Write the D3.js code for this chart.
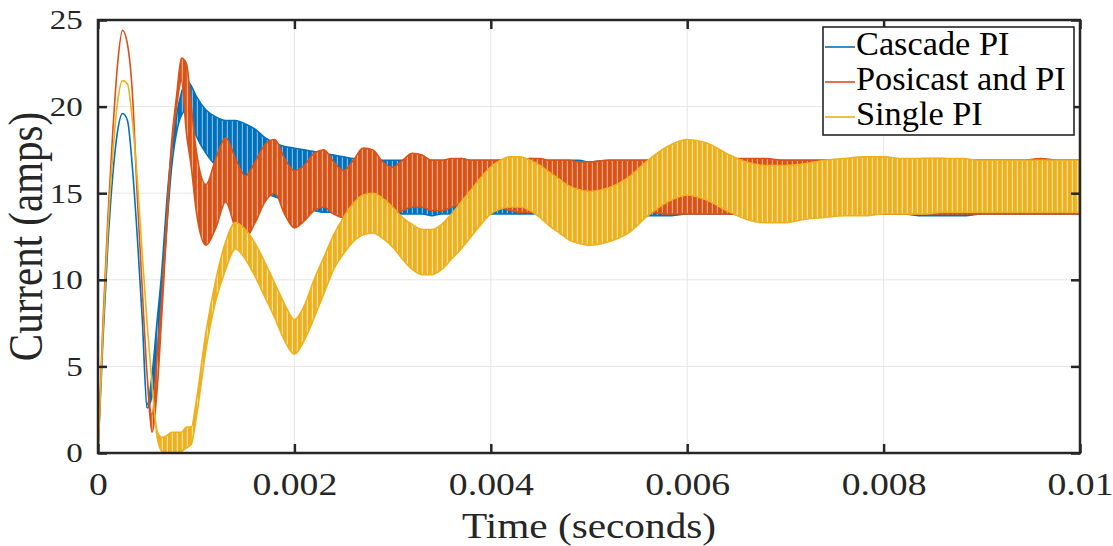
<!DOCTYPE html>
<html>
<head>
<meta charset="utf-8">
<script src="https://cdn.jsdelivr.net/npm/d3@7"></script>
<style>
  html, body { margin: 0; padding: 0; background: #fff; }
  svg { display: block; font-family: "Liberation Serif", "Times New Roman", serif; }
</style>
</head>
<body>
<svg id="chart" width="1113" height="546"></svg>
<script>
// time samples (s)
const time = [
  0, 0.00005, 0.0001, 0.00015, 0.0002, 0.00025, 0.0003, 0.00035, 0.0004, 0.00045, 0.0005,
  0.00055, 0.0006, 0.00065, 0.0007, 0.00075, 0.0008, 0.00085, 0.0009, 0.00095, 0.001,
  0.0011, 0.0012, 0.0013, 0.0014, 0.0015, 0.0016, 0.0017, 0.0018, 0.0019, 0.002,
  0.0021, 0.0022, 0.0023, 0.0024, 0.0025, 0.0026, 0.0027, 0.0028, 0.0029, 0.003,
  0.0031, 0.0032, 0.0033, 0.0034, 0.0035, 0.0036, 0.0037, 0.0038, 0.0039, 0.004,
  0.0041, 0.0042, 0.0043, 0.0044, 0.0045, 0.0046, 0.0047, 0.0048, 0.0049, 0.005,
  0.0052, 0.0054, 0.0056, 0.0058, 0.006, 0.0062, 0.0064, 0.0066, 0.0068, 0.007,
  0.0072, 0.0074, 0.0076, 0.0078, 0.008, 0.0082, 0.0084, 0.0086, 0.0088, 0.009,
  0.0092, 0.0094, 0.0096, 0.0098, 0.01
];

// upper / lower edge of the ripple band for each controller (amps)
const cascadeHi = [
  0, 6.5, 12, 16, 18.6, 19.6, 19.2, 16.5, 12.5, 7.8, 2.8,
  4.5, 7.5, 10.5, 14.5, 17.5, 19.5, 20.8, 21.5, 21.2, 20.6,
  19.8, 19.4, 19.2, 19.2, 19.0, 18.7, 18.2, 17.9, 17.7, 17.6,
  17.5, 17.4, 17.3, 17.2, 17.1, 17.0, 17.0, 17.0, 16.9, 16.9,
  16.9, 16.9, 17.0, 16.9, 16.9, 16.9, 17.0, 16.9, 16.9, 16.9,
  16.9, 16.9, 16.9, 17.0, 16.9, 16.9, 16.9, 16.9, 16.9, 16.8,
  16.9, 16.9, 16.9, 16.9, 16.8, 16.9, 16.9, 16.9, 16.9, 16.9,
  16.9, 16.9, 16.9, 16.9, 16.9, 16.9, 16.9, 16.9, 16.9, 16.9,
  16.9, 16.9, 16.9, 16.9, 16.9
];
const cascadeLo = [
  0, 6.5, 12, 16, 18.6, 19.6, 19.2, 16.5, 12.5, 7.8, 2.6,
  3.3, 5.5, 9.0, 13.0, 16.5, 18.5, 19.5, 19.8, 19.0, 18.3,
  17.3, 16.6, 16.2, 15.9, 15.6, 15.2, 15.0, 14.8, 14.6, 14.4,
  14.2, 14.0, 13.9, 13.9, 13.8, 13.8, 13.8, 13.8, 13.8, 13.8,
  13.8, 13.8, 13.8, 13.7, 13.8, 13.8, 13.8, 13.9, 13.8, 13.8,
  13.8, 13.8, 13.8, 13.8, 13.8, 13.8, 13.8, 13.8, 13.8, 13.8,
  13.8, 13.8, 13.7, 13.7, 13.8, 13.8, 13.8, 13.7, 13.6, 13.6,
  13.7, 13.7, 13.8, 13.8, 13.8, 13.8, 13.7, 13.7, 13.7, 13.8,
  13.8, 13.8, 13.8, 13.8, 13.8
];
const posicastHi = [
  0, 7.5, 13.5, 18.5, 22.5, 24.4, 23.6, 20.8, 14.8, 9.5, 4.5,
  2.2, 5.5, 9.0, 13.7, 18.0, 20.6, 22.8, 22.5, 20.0, 17.5,
  15.5, 17.0, 18.2, 17.0, 16.0, 16.8, 17.8, 18.1, 17.0, 16.3,
  16.6, 17.3, 17.5, 16.8, 16.3, 16.9, 17.6, 17.5, 16.8, 16.5,
  16.9, 17.3, 17.2, 16.9, 16.9, 17.0, 17.0, 16.9, 16.9, 16.9,
  16.9, 16.9, 16.9, 17.0, 17.0, 16.9, 16.9, 16.9, 16.8, 16.8,
  16.9, 16.9, 16.9, 16.9, 16.9, 17.0, 17.0, 17.0, 17.0, 16.9,
  16.9, 16.9, 16.9, 16.9, 16.9, 16.9, 17.0, 17.0, 16.9, 16.9,
  16.9, 16.9, 17.0, 16.9, 16.9
];
const posicastLo = [
  0, 7.5, 13.5, 18.5, 22.5, 24.4, 23.6, 20.8, 14.8, 9.5, 4.5,
  1.2, 3.5, 8.0, 13.0, 17.5, 20.0, 21.5, 18.5, 16.5, 14.0,
  12.0, 13.0, 14.5, 13.0, 12.4, 13.3, 14.5, 15.0, 13.8, 13.0,
  13.4, 14.0, 14.2, 13.8, 13.6, 14.0, 14.6, 14.5, 14.0, 13.8,
  14.0, 14.2, 14.2, 14.0, 14.0, 14.2, 14.4, 14.5, 14.6, 14.5,
  14.2, 14.0, 13.9, 13.9, 13.9, 13.9, 13.9, 13.9, 13.9, 13.9,
  13.9, 13.9, 13.9, 13.8, 13.8, 13.8, 13.8, 13.8, 13.8, 13.8,
  13.8, 13.8, 13.8, 13.8, 13.8, 13.8, 13.8, 13.8, 13.8, 13.8,
  13.8, 13.8, 13.8, 13.8, 13.8
];
const singleHi = [
  0, 7.0, 12.8, 17.2, 20.3, 21.5, 21.3, 19.2, 15.8, 11.5, 7.5,
  4.0, 1.3, 0.9, 1.0, 1.2, 1.2, 1.2, 1.5, 1.5, 3.0,
  7.0, 10.0, 12.2, 13.3, 12.9, 12.1, 11.0, 9.8, 8.6, 7.7,
  8.5, 10.0, 11.3, 12.6, 13.6, 14.4, 14.9, 15.0, 14.7, 14.2,
  13.6, 13.2, 12.9, 12.9, 13.2, 13.8, 14.5, 15.2, 15.9, 16.5,
  16.9, 17.1, 17.1, 16.9, 16.6, 16.2, 15.8, 15.4, 15.2, 15.1,
  15.3, 15.9, 16.9, 17.7, 18.1, 17.9, 17.3, 16.8, 16.6, 16.6,
  16.7, 16.9, 17.0, 17.1, 17.1, 17.0, 17.0, 17.0, 17.0, 16.9,
  16.9, 16.9, 16.9, 16.9, 16.9
];
const singleLo = [
  0, 7.0, 12.8, 17.2, 20.3, 21.5, 21.3, 19.2, 15.8, 11.5, 7.5,
  4.0, 1.0, 0.1, 0.0, 0.0, 0.0, 0.1, 0.3, 0.5, 2.0,
  6.0, 8.8, 10.6, 11.8, 11.2, 10.2, 9.0, 7.8, 6.5, 5.7,
  6.5, 7.8, 9.2, 10.6, 11.5, 12.2, 12.6, 12.7, 12.4, 11.9,
  11.2, 10.6, 10.3, 10.3, 10.6, 11.2, 11.8, 12.5, 13.2, 13.8,
  14.1, 14.2, 14.2, 14.0, 13.6, 13.1, 12.7, 12.3, 12.1, 12.0,
  12.2, 12.7, 13.7, 14.5, 14.9, 14.6, 14.0, 13.5, 13.3, 13.3,
  13.5, 13.6, 13.7, 13.7, 13.8, 13.8, 13.8, 13.9, 13.9, 13.9,
  13.9, 13.9, 13.9, 13.9, 13.9
];

const seriesNames = ["Cascade PI", "Posicast and PI", "Single PI"];
const xTicks = [0, 0.002, 0.004, 0.006, 0.008, 0.01];
const xTickLabels = ["0", "0.002", "0.004", "0.006", "0.008", "0.01"];
const yTicks = [0, 5, 10, 15, 20, 25];

const colors = ["#0072BD", "#D95319", "#EDB120"];
const stripe = ["#7fb6e3", "#f2a882", "#fadf97"];
const sx = 1.18; // glyphs in the picture are a little wider than tall

const margin = { left: 98, right: 33, top: 20, bottom: 93 };
const W = 1113 - margin.left - margin.right;
const H = 546 - margin.top - margin.bottom;

const svg = d3.select("#chart");
const g = svg.append("g").attr("transform", `translate(${margin.left},${margin.top})`);

const x = d3.scaleLinear().domain([0, 0.01]).range([0, W]);
const y = d3.scaleLinear().domain([0, 25]).range([H, 0]);

// ripple texture patterns
const defs = svg.append("defs");
colors.forEach((c, i) => {
  const p = defs.append("pattern").attr("id", "rip" + i)
    .attr("patternUnits", "userSpaceOnUse").attr("width", 5).attr("height", 10);
  p.append("rect").attr("width", 5).attr("height", 10).attr("fill", c);
  p.append("rect").attr("x", 3.8).attr("width", 1.2).attr("height", 10).attr("fill", stripe[i]);
});
defs.append("clipPath").attr("id", "plotclip")
  .append("rect").attr("width", W).attr("height", H);

// grid
g.append("g").selectAll("line").data(xTicks).enter().append("line")
  .attr("x1", d => x(d)).attr("x2", d => x(d)).attr("y1", 0).attr("y2", H)
  .attr("stroke", "#e6e6e6").attr("stroke-width", 1);
g.append("g").selectAll("line").data(yTicks).enter().append("line")
  .attr("x1", 0).attr("x2", W).attr("y1", d => y(d)).attr("y2", d => y(d))
  .attr("stroke", "#e6e6e6").attr("stroke-width", 1);

// series bands
const bands = [[cascadeLo, cascadeHi], [posicastLo, posicastHi], [singleLo, singleHi]];
const area = d3.area()
  .x((d, i) => x(time[i]))
  .y0(d => y(d[0]))
  .y1(d => y(d[1]))
  .curve(d3.curveMonotoneX);

const plot = g.append("g").attr("clip-path", "url(#plotclip)");
bands.forEach((b, i) => {
  plot.append("path")
    .datum(d3.zip(b[0], b[1]))
    .attr("d", area)
    .attr("fill", `url(#rip${i})`)
    .attr("stroke", colors[i])
    .attr("stroke-width", 1.6)
    .attr("stroke-linejoin", "round");
});

// axes
const xAxis = g.append("g").attr("transform", `translate(0,${H})`)
  .call(d3.axisBottom(x).tickValues(xTicks).tickFormat((d, i) => xTickLabels[i])
    .tickSizeInner(-9).tickSizeOuter(0).tickPadding(19));
xAxis.selectAll("text").attr("font-size", 32).attr("fill", "#262626")
  .attr("font-family", "Liberation Serif").attr("transform", `scale(${sx},1)`);

const yAxis = g.append("g")
  .call(d3.axisLeft(y).tickValues(yTicks).tickSizeInner(-9).tickSizeOuter(0).tickPadding(13));
yAxis.selectAll("text").attr("font-size", 28).attr("fill", "#262626")
  .attr("font-family", "Liberation Serif").attr("transform", `scale(${sx},1)`);

g.append("g").call(d3.axisTop(x).tickValues(xTicks).tickFormat("").tickSizeInner(-9).tickSizeOuter(0));
g.append("g").attr("transform", `translate(${W},0)`)
  .call(d3.axisRight(y).tickValues(yTicks).tickFormat("").tickSizeInner(-9).tickSizeOuter(0));

g.selectAll(".domain").attr("stroke", "none");
g.selectAll(".tick line").attr("stroke", "#262626").attr("stroke-width", 2.5);

g.append("rect").attr("width", W).attr("height", H)
  .attr("fill", "none").attr("stroke", "#262626").attr("stroke-width", 2.5);

// axis titles
svg.append("text")
  .attr("transform", `translate(${margin.left + W / 2},538) scale(${sx},1)`)
  .attr("text-anchor", "middle").attr("font-size", 35).attr("fill", "#262626")
  .text("Time (seconds)");
svg.append("text")
  .attr("transform", `translate(42,${margin.top + H / 2}) scale(${sx},1) rotate(-90)`)
  .attr("text-anchor", "middle").attr("font-size", 41).attr("fill", "#262626")
  .text("Current (amps)");

// legend
const leg = svg.append("g").attr("transform", "translate(823,27)");
leg.append("rect").attr("width", 251).attr("height", 108)
  .attr("fill", "#fff").attr("stroke", "#262626").attr("stroke-width", 1.6);
seriesNames.forEach((name, i) => {
  const yy = 28 + i * 35;
  leg.append("line").attr("x1", 2).attr("x2", 32).attr("y1", yy - 8).attr("y2", yy - 8)
    .attr("stroke", colors[i]).attr("stroke-width", 1.6);
  leg.append("text")
    .attr("transform", `translate(33,${yy}) scale(1.04,1)`)
    .attr("font-size", 33).attr("fill", "#000").text(name);
});
</script>
</body>
</html>
